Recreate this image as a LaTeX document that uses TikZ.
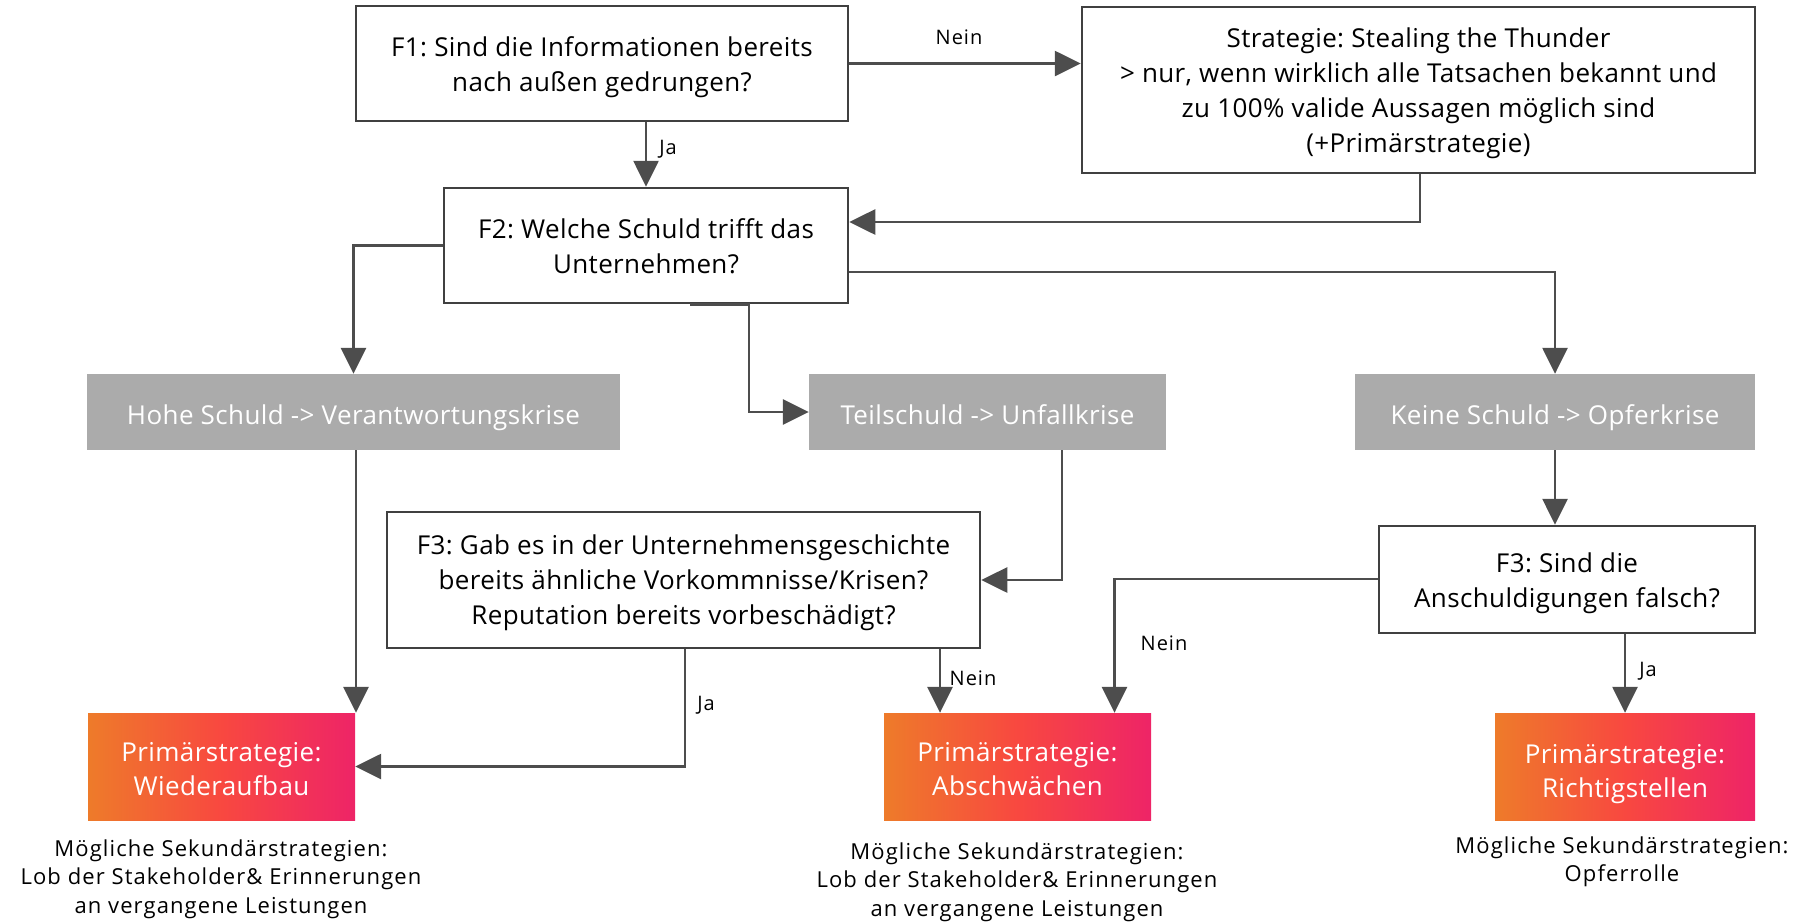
\documentclass[tikz,border=0pt]{standalone}
\usepackage{fontspec}
\setmainfont[Ligatures=NoCommon,LetterSpace=1.5]{Open Sans}
\newfontfamily\secfont[LetterSpace=5,Ligatures=NoCommon]{Open Sans}
\usetikzlibrary{arrows.meta,calc}
\definecolor{linecol}{RGB}{77,77,77}
\definecolor{boxline}{RGB}{64,64,64}
\definecolor{graybox}{RGB}{171,171,171}
\definecolor{gorange}{RGB}{238,123,42}
\definecolor{gred}{RGB}{248,72,64}
\definecolor{gpink}{RGB}{238,36,103}
\begin{document}
\frenchspacing
\begin{tikzpicture}[x=1pt,y=-1pt,
  qbox/.style={draw=boxline, line width=2.5pt, fill=white, inner sep=0pt},
  gbox/.style={fill=graybox, inner sep=0pt},
  pbox/.style={left color=gorange, right color=gpink, middle color=gred, inner sep=0pt, minimum height=107pt},
  qtxt/.style={align=center, inner sep=0pt, text=black, font=\fontsize{26}{35}\selectfont},
  gtxt/.style={align=center, inner sep=0pt, text=white, font=\fontsize{26}{35}\selectfont},
  ptxt/.style={align=center, inner sep=0pt, text=white, font=\fontsize{26}{34}\selectfont},
  sectext/.style={align=center, inner sep=0pt, text=black, font=\secfont\fontsize{22}{28.5}\selectfont},
  lbl/.style={inner sep=0pt, text=black, font=\secfont\fontsize{20}{24}\selectfont},
  arr/.style={draw=linecol, line width=2.7pt, -{Triangle[length=26pt,width=25pt]}}
]
\useasboundingbox (0,0) rectangle (1801,922);
% boxes
\node[qbox, minimum width=492pt, minimum height=115pt] (F1) at (602,63.5) {};
\node[qbox, minimum width=673pt, minimum height=166pt] (Strat) at (1418.5,90) {};
\node[qbox, minimum width=404pt, minimum height=115pt] (F2) at (646,245.5) {};
\node[gbox, minimum width=533pt, minimum height=76pt] (Hohe) at (353.5,412) {};
\node[gbox, minimum width=357pt, minimum height=76pt] (Teil) at (987.5,412) {};
\node[gbox, minimum width=400pt, minimum height=76pt] (Keine) at (1555,412) {};
\node[qbox, minimum width=593pt, minimum height=136pt] (F3) at (683.5,580) {};
\node[qbox, minimum width=376pt, minimum height=107pt] (F3b) at (1567,579.5) {};
\node[pbox, minimum width=267pt] (Wied) at (221.5,766.5) {};
\node[pbox, minimum width=267pt] (Absch) at (1017.5,766.5) {};
\node[pbox, minimum width=260pt] (Richt) at (1625,766.5) {};
% box texts
\node[qtxt] (F1t) at ([yshift=-4pt]F1.center) {F1: Sind die Informationen bereits\\nach außen gedrungen?};
\node[qtxt] (Stratt) at ([yshift=-3.5pt]Strat.center) {Strategie: Stealing the Thunder\\> nur, wenn wirklich alle Tatsachen bekannt und\\zu 100\% valide Aussagen möglich sind\\(+Primärstrategie)};
\node[qtxt] (F2t) at ([yshift=-0.5pt]F2.center) {F2: Welche Schuld trifft das\\Unternehmen?};
\node[gtxt] (Hohet) at ([yshift=-6pt]Hohe.center) {Hohe Schuld -> Verantwortungskrise};
\node[gtxt] (Teilt) at ([yshift=-3pt]Teil.center) {Teilschuld -> Unfallkrise};
\node[gtxt] (Keinet) at ([yshift=-6pt]Keine.center) {Keine Schuld -> Opferkrise};
\node[qtxt] (F3t) at ([yshift=-3pt]F3.center) {F3: Gab es in der Unternehmensgeschichte\\bereits ähnliche Vorkommnisse/Krisen?\\Reputation bereits vorbeschädigt?};
\node[qtxt] (F3bt) at ([yshift=-4pt]F3b.center) {F3: Sind die\\Anschuldigungen falsch?};
\node[ptxt] (Wiedt) at ([yshift=-3pt]Wied.center) {Primärstrategie:\\Wiederaufbau};
\node[ptxt] (Abscht) at ([yshift=-3pt]Absch.center) {Primärstrategie:\\Abschwächen};
\node[ptxt] (Richtt) at ([yshift=-7.5pt]Richt.center) {Primärstrategie:\\Richtigstellen};
\node[sectext] (S1) at (221,879) {Mögliche Sekundärstrategien:\\Lob der Stakeholder\& Erinnerungen\\an vergangene Leistungen};
\node[sectext] (S2) at (1017,882) {Mögliche Sekundärstrategien:\\Lob der Stakeholder\& Erinnerungen\\an vergangene Leistungen};
\node[sectext] (S3) at (1622,862) {Mögliche Sekundärstrategien:\\Opferrolle};
% connectors
\draw[arr] (F1.east) -- (F1.east -| Strat.west);
\node[lbl] (lNein1) at (959,37) {Nein};
\draw[arr] (F1.south -| F2.north) -- (F2.north);
\node[lbl] (lJa1) at (668,149) {Ja};
\draw[arr] ([xshift=1.5pt]Strat.south) |- ([yshift=23.5pt]F2.east);
\draw[arr] (F2.west) -| (Hohe.north);
\draw[arr] ([yshift=-26.5pt]F2.east) -| (Keine.north);
\draw[arr] ([xshift=44pt]F2.south) -- ([xshift=103pt]F2.south) |- (Teil.west);
\draw[arr] ([xshift=2.5pt]Hohe.south) -- ([xshift=2.5pt]Hohe.south |- Wied.north);
\draw[arr] ([xshift=74.5pt]Teil.south) |- (F3.east);
\draw[arr] ([xshift=1.5pt]F3.south) |- (Wied.east);
\node[lbl] (lJa2) at (706,705) {Ja};
\draw[arr] ([xshift=256.5pt]F3.south) -- ([xshift=256.5pt]F3.south |- Absch.north);
\node[lbl] (lNein2) at (973,678) {Nein};
\draw[arr] (Keine.south) -- (Keine.south |- F3b.north);
\draw[arr] ([yshift=0.5pt]F3b.west) -| ([xshift=97pt]Absch.north);
\node[lbl] (lNein3) at (1164,643) {Nein};
\draw[arr] (F3b.south -| Richt.north) -- (Richt.north);
\node[lbl] (lJa3) at (1648,671) {Ja};
\end{tikzpicture}
\end{document}
